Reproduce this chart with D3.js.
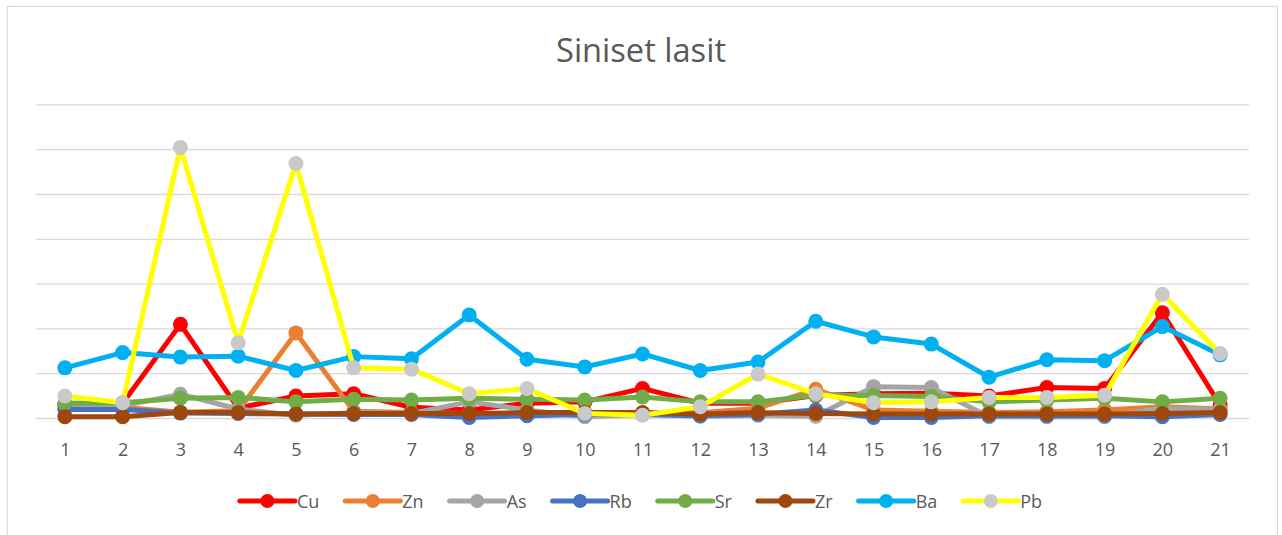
<!DOCTYPE html>
<html>
<head>
<meta charset="utf-8">
<script src="https://cdn.jsdelivr.net/npm/d3@7"></script>
<style>
  body { margin: 0; background: #fff; }
  text { font-family: "Open Sans", "DejaVu Sans", sans-serif; fill: #595959; }
</style>
</head>
<body>
<svg width="1282" height="535"></svg>
<script>
// categories (sample numbers) and one array per element
const categories = ['1', '2', '3', '4', '5', '6', '7', '8', '9', '10', '11', '12', '13', '14', '15', '16', '17', '18', '19', '20', '21']
const yTicks = [0, 100, 200, 300, 400, 500, 600, 700]

const cu = [30, 33, 209, 22, 49, 54, 24, 18, 33, 36, 66, 33, 33, 50, 54, 55, 49, 68, 66, 235, 29]
const zn = [29, 24, 13, 16, 190, 15, 12, 10, 10, 10, 10, 12, 22, 64, 18, 15, 12, 14, 18, 25, 20]
const as = [22, 27, 53, 20, 6, 12, 10, 36, 18, 3, 8, 4, 6, 4, 70, 68, 3, 3, 3, 22, 18]
const rb = [19, 19, 11, 10, 9, 8, 8, 1, 5, 8, 8, 5, 8, 18, 1, 1, 5, 5, 5, 3, 8]
const sr = [33, 34, 44, 46, 36, 42, 40, 44, 42, 40, 47, 36, 36, 51, 50, 48, 36, 40, 44, 36, 44]
const zr = [3, 3, 12, 12, 9, 10, 10, 10, 12, 12, 12, 9, 12, 10, 9, 9, 9, 9, 9, 10, 12]
const ba = [112, 146, 136, 138, 106, 137, 132, 230, 131, 114, 143, 106, 125, 216, 181, 165, 91, 130, 128, 204, 141]
const pb = [49, 34, 604, 168, 568, 112, 109, 54, 66, 10, 6, 25, 98, 54, 34, 36, 46, 46, 51, 276, 144]

const seriesNames = ['Cu', 'Zn', 'As', 'Rb', 'Sr', 'Zr', 'Ba', 'Pb']
const seriesValues = [cu, zn, as, rb, sr, zr, ba, pb]
const lineColors = ['#FF0000', '#ED7D31', '#A5A5A5', '#4472C4', '#70AD47', '#9E480E', '#00B0F0', '#FFFF00']
const markerColors = ['#FF0000', '#ED7D31', '#A5A5A5', '#4472C4', '#70AD47', '#9E480E', '#00B0F0', '#C9C9C9']

const svg = d3.select('svg')

// chart frame
svg.append('rect')
  .attr('x', 7.5).attr('y', 6.5)
  .attr('width', 1270).attr('height', 540)
  .attr('fill', '#fff')
  .attr('stroke', '#D9D9D9')
  .attr('stroke-width', 1.2)

svg.append('text')
  .attr('x', 641).attr('y', 62)
  .attr('text-anchor', 'middle')
  .attr('font-size', 33)
  .attr('textLength', 170)
  .attr('lengthAdjust', 'spacingAndGlyphs')
  .text('Siniset lasit')

const x = d3.scalePoint().domain(categories).range([36, 1249]).padding(0.5)
const y = d3.scaleLinear().domain([0, 700]).range([418, 104.4])

// gridlines
svg.append('g')
  .attr('transform', 'translate(36,0)')
  .call(d3.axisLeft(y).tickValues(yTicks).tickSize(-1213).tickFormat(''))
  .call(g => g.select('.domain').remove())
  .call(g => g.selectAll('.tick line').attr('stroke', '#D9D9D9').attr('stroke-width', 1.3))

// category labels
svg.append('g')
  .attr('transform', 'translate(0,418)')
  .call(d3.axisBottom(x).tickSize(0).tickPadding(0))
  .call(g => g.select('.domain').remove())
  .call(g => g.selectAll('.tick text')
    .attr('y', 38)
    .attr('dy', 0)
    .attr('font-size', 18)
    .attr('fill', '#595959')
    .style('font-family', '"Open Sans", sans-serif'))

const line = d3.line()
  .x((d, i) => x(categories[i]))
  .y(d => y(d))

seriesValues.forEach((vals, s) => {
  const g = svg.append('g')
  g.append('path')
    .datum(vals)
    .attr('d', line)
    .attr('fill', 'none')
    .attr('stroke', lineColors[s])
    .attr('stroke-width', 5)
    .attr('stroke-linejoin', 'round')
    .attr('stroke-linecap', 'round')
  g.selectAll('circle')
    .data(vals)
    .enter()
    .append('circle')
    .attr('cx', (d, i) => x(categories[i]))
    .attr('cy', d => y(d))
    .attr('r', 7.5)
    .attr('fill', markerColors[s])
})

// legend
const legend = svg.append('g')
const lineLen = 55
const items = seriesNames.map((name, s) => {
  const item = legend.append('g')
  item.append('line')
    .attr('x1', 0).attr('x2', lineLen)
    .attr('y1', 0).attr('y2', 0)
    .attr('stroke', lineColors[s])
    .attr('stroke-width', 5)
    .attr('stroke-linecap', 'round')
  item.append('circle')
    .attr('cx', lineLen / 2).attr('cy', 0)
    .attr('r', 7)
    .attr('fill', markerColors[s])
  const t = item.append('text')
    .attr('x', lineLen + 2).attr('y', 6.5)
    .attr('font-size', 18)
    .text(name)
  return { item, w: lineLen + 2 + t.node().getComputedTextLength() }
})
const gap = 26
const total = d3.sum(items, d => d.w) + gap * (items.length - 1)
let lx = 641 - total / 2
items.forEach(d => {
  d.item.attr('transform', `translate(${lx},501)`)
  lx += d.w + gap
})
</script>
</body>
</html>
